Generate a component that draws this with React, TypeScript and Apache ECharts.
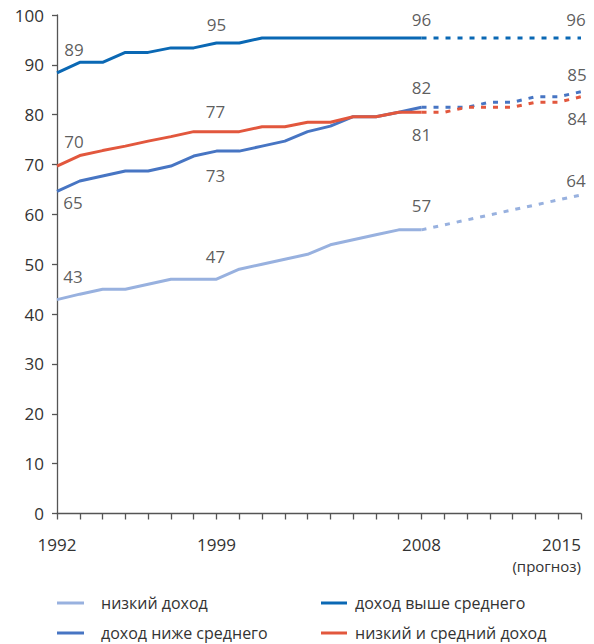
import React, { useEffect, useRef } from "react";
import * as echarts from "echarts";

const FONT = "'Open Sans', 'Noto Sans', sans-serif";
const TEXT = "#333333";

const seriesNames = [
  "низкий доход",
  "доход ниже среднего",
  "доход выше среднего",
  "низкий и средний доход",
];
const colors = ["#98B1DF", "#4775C3", "#0A68B4", "#E2573D"];

const yearsActual = [1992, 1993, 1994, 1995, 1996, 1997, 1998, 1999, 2000, 2001, 2002, 2003, 2004, 2005, 2006, 2007, 2008];
const yearsForecast = [2008, 2009, 2010, 2011, 2012, 2013, 2014, 2015];

const lowActual = [42.9, 44.0, 45.0, 45.0, 46.0, 47.0, 47.0, 47.0, 49.0, 50.0, 51.0, 52.0, 53.9, 54.9, 55.9, 56.9, 56.9];
const lowForecast = [56.9, 57.9, 58.9, 59.9, 60.9, 61.9, 62.9, 63.9];

const lowerMidActual = [64.6, 66.7, 67.7, 68.7, 68.7, 69.7, 71.7, 72.7, 72.7, 73.7, 74.7, 76.6, 77.7, 79.6, 79.6, 80.5, 81.5];
const lowerMidForecast = [81.5, 81.5, 81.5, 82.5, 82.5, 83.6, 83.6, 84.6];

const upperMidActual = [88.4, 90.5, 90.5, 92.5, 92.5, 93.4, 93.4, 94.4, 94.4, 95.4, 95.4, 95.4, 95.4, 95.4, 95.4, 95.4, 95.4];
const upperMidForecast = [95.4, 95.4, 95.4, 95.4, 95.4, 95.4, 95.4, 95.4];

const lowMidActual = [69.7, 71.8, 72.8, 73.7, 74.7, 75.6, 76.6, 76.6, 76.6, 77.6, 77.6, 78.5, 78.5, 79.6, 79.6, 80.5, 80.5];
const lowMidForecast = [80.5, 80.5, 81.5, 81.5, 81.5, 82.5, 82.5, 83.6];

const actualData = [lowActual, lowerMidActual, upperMidActual, lowMidActual];
const forecastData = [lowForecast, lowerMidForecast, upperMidForecast, lowMidForecast];

// annotated values: series index, year, label text
const labelSeries = [2, 2, 2, 2, 3, 3, 3, 3, 1, 1, 1, 1, 0, 0, 0, 0];
const labelYears = [1992, 1999, 2008, 2015, 1992, 1999, 2008, 2015, 1992, 1999, 2008, 2015, 1992, 1999, 2008, 2015];
const labelTexts = ["89", "95", "96", "96", "70", "77", "81", "84", "65", "73", "82", "85", "43", "47", "57", "64"];
const labelOffsets = [
  [17, -23], [0, -18], [0, -18], [-5, -18],
  [17, -25], [-1, -20], [0, 22], [-4, 22],
  [16, 11], [-1, 24], [0, -20], [-4, -17],
  [16, -23], [-1, -23], [0, -24], [-5, -14],
];

const xTickLabels = [1992, 1999, 2008, 2015];
const forecastNote = "(прогноз)";

function valueAt(si: number, year: number): number {
  const ia = yearsActual.indexOf(year);
  if (ia >= 0) return actualData[si][ia];
  const ifc = yearsForecast.indexOf(year);
  return forecastData[si][ifc];
}

export default function App() {
  const ref = useRef<HTMLDivElement>(null);
  useEffect(() => {
    if (!ref.current) return;
    const chart = echarts.init(ref.current, undefined, { renderer: "svg" });
    const series: any[] = [];
    seriesNames.forEach((name, i) => {
      series.push({
        name,
        type: "line",
        data: yearsActual.map((y, k) => [y, actualData[i][k]]),
        showSymbol: false,
        symbol: "none",
        clip: false,
        color: colors[i],
        lineStyle: { color: colors[i], width: 3 },
        z: 2 + i,
      });
      series.push({
        name: name + " (прогноз)",
        type: "line",
        data: yearsForecast.map((y, k) => [y, forecastData[i][k]]),
        showSymbol: false,
        symbol: "none",
        clip: false,
        color: colors[i],
        lineStyle: { color: colors[i], width: 3, type: [5, 7] },
        z: 2 + i,
      });
    });
    series.push({
      name: "labels",
      type: "scatter",
      symbolSize: 0,
      silent: true,
      z: 10,
      data: labelTexts.map((t, k) => ({
        value: [labelYears[k], valueAt(labelSeries[k], labelYears[k])],
        label: {
          show: true,
          position: "inside",
          offset: labelOffsets[k],
          formatter: t,
          fontFamily: FONT,
          fontSize: 17,
          fontWeight: "normal",
          color: TEXT,
        },
      })),
    });

    const legendText = { fontFamily: FONT, fontSize: 16, fontWeight: "normal", color: TEXT, lineHeight: 18 };

    chart.setOption({
      animation: false,
      textStyle: { fontFamily: FONT, fontWeight: "normal" },
      grid: { left: 57, right: 13, top: 15, bottom: 130.5, containLabel: false },
      xAxis: {
        type: "value",
        min: 1992,
        max: 2015,
        interval: 1,
        splitLine: { show: false },
        axisLine: { show: true, lineStyle: { color: "#555", width: 1.3 } },
        axisTick: { show: true, length: 6, lineStyle: { color: "#555", width: 1.3 } },
        axisLabel: {
          margin: 19,
          fontFamily: FONT,
          fontSize: 17,
          fontWeight: "normal",
          color: TEXT,
          alignMaxLabel: "right",
          formatter: (v: number) => {
            if (v === 2015) return "{a|" + v + "}\n{b|" + forecastNote + "}";
            return xTickLabels.indexOf(v) >= 0 ? "{a|" + v + "}" : "";
          },
          rich: {
            a: { fontFamily: FONT, fontSize: 17, fontWeight: "normal", color: TEXT, lineHeight: 23 },
            b: { fontFamily: FONT, fontSize: 15, fontWeight: "normal", color: TEXT, lineHeight: 20 },
          },
        },
      },
      yAxis: {
        type: "value",
        min: 0,
        max: 100,
        interval: 10,
        splitLine: { show: false },
        axisLine: { show: true, lineStyle: { color: "#555", width: 1.3 } },
        axisTick: { show: true, length: 5, lineStyle: { color: "#555", width: 1.3 } },
        axisLabel: { margin: 13, fontFamily: FONT, fontSize: 17, fontWeight: "normal", color: TEXT },
      },
      legend: [
        {
          data: [seriesNames[0], seriesNames[1]],
          orient: "vertical",
          left: 57,
          top: 594,
          padding: 0,
          icon: "rect",
          itemWidth: 27,
          itemHeight: 3,
          itemGap: 12,
          selectedMode: false,
          textStyle: { ...legendText, padding: [0, 0, 0, 12] },
        },
        {
          data: [seriesNames[2], seriesNames[3]],
          orient: "vertical",
          left: 321,
          top: 594,
          padding: 0,
          icon: "rect",
          itemWidth: 26,
          itemHeight: 3,
          itemGap: 12,
          selectedMode: false,
          textStyle: { ...legendText, padding: [0, 0, 0, 3] },
        },
      ],
      series,
    });
    return () => chart.dispose();
  }, []);
  return <div ref={ref} style={{ width: 594, height: 644, position: "absolute", left: 0, top: 0 }} />;
}
